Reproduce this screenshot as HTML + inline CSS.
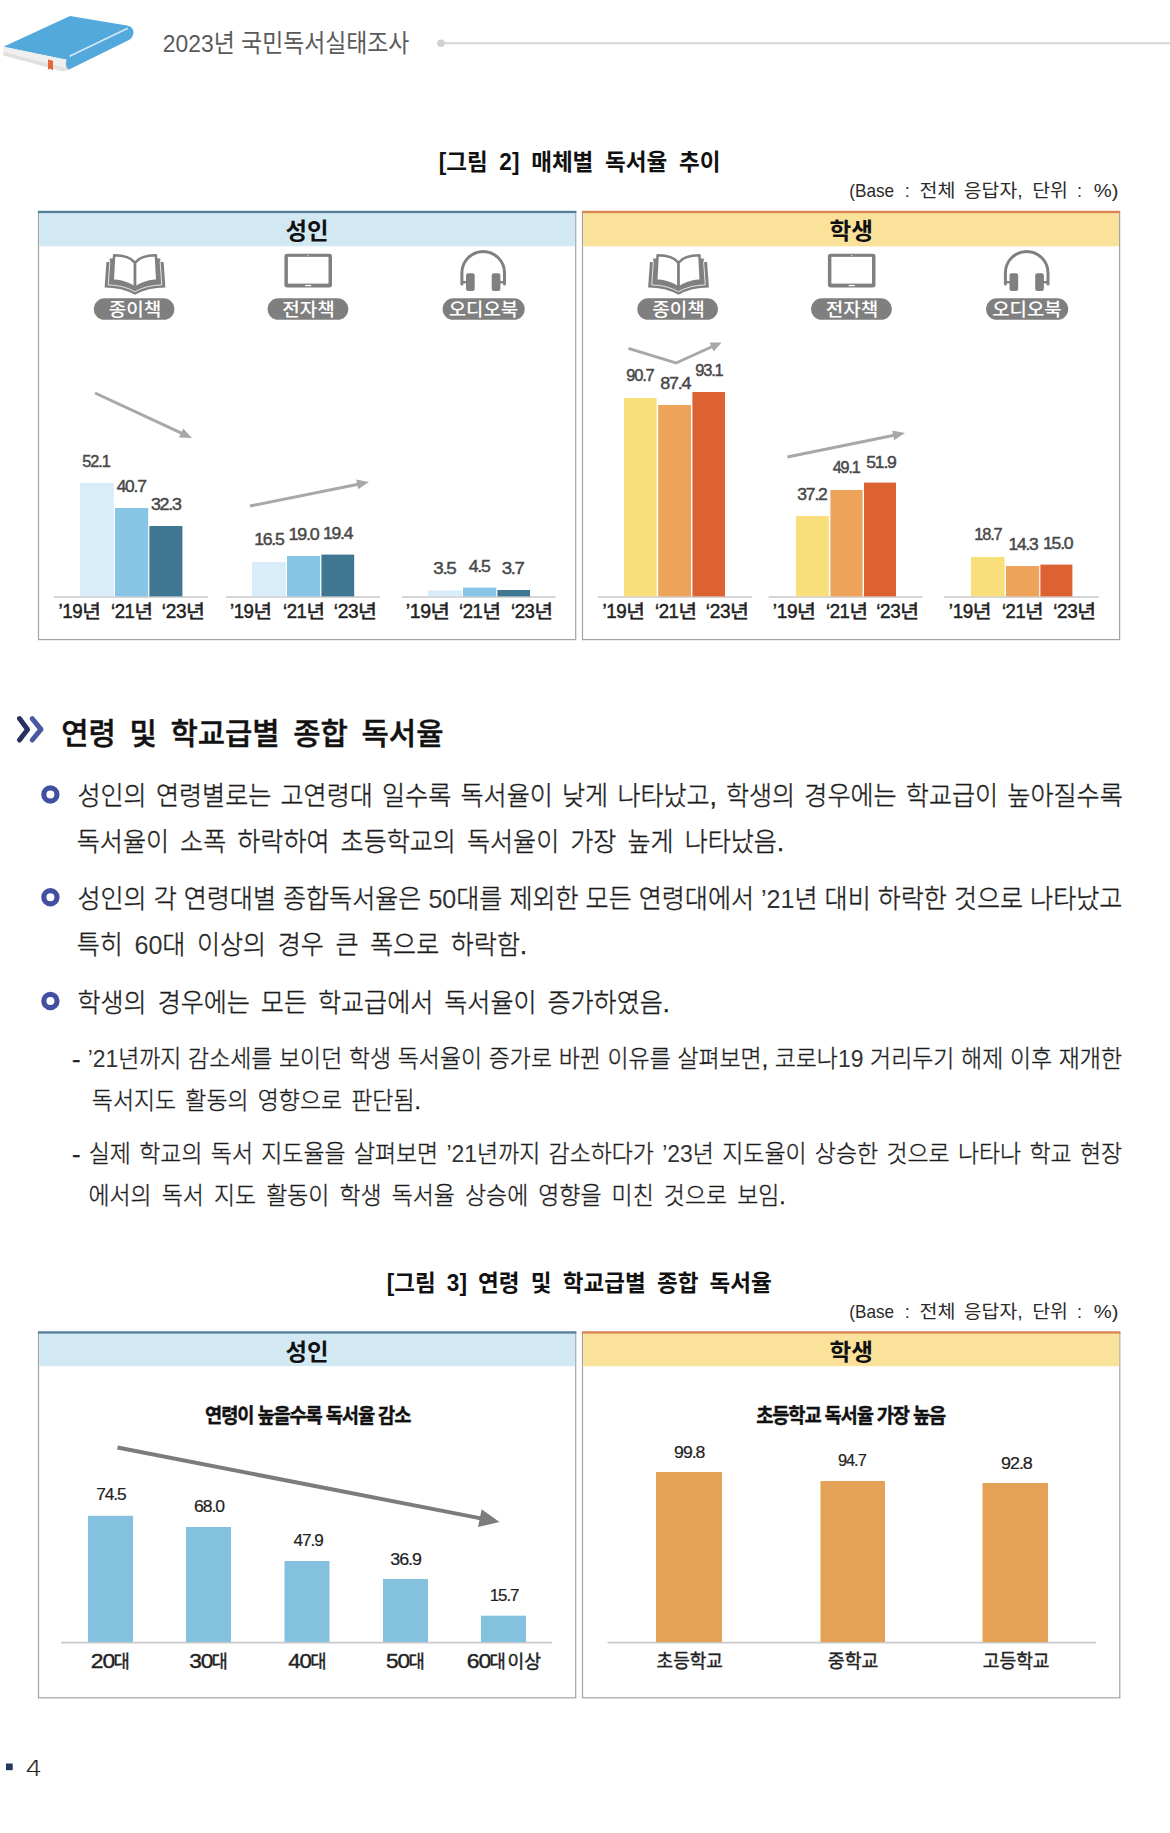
<!DOCTYPE html>
<html lang="ko"><head><meta charset="utf-8"><title>2023년 국민독서실태조사</title>
<style>html,body{margin:0;padding:0;background:#fff}body{width:1170px;height:1833px;overflow:hidden}svg{display:block}text{font-kerning:normal}</style>
</head><body>
<svg width="1170" height="1833" viewBox="0 0 1170 1833">
<g id="bookicon">
<path d="M3.5 46.5 L3.5 55 L61 70.5 Q66 71.5 68.5 69 L68.5 59 Z" fill="#efefef"/>
<path d="M3.5 52 L3.5 55.5 L61 71 Q66 72 68.5 69.5 L68.5 66 Q66 68 61 67 Z" fill="#e2e0de"/>
<path d="M4 46.5 L70 16 L127 25.5 Q134 27 133.5 33 Q133 37.5 129 40 L69 69.5 Q64 66 67 59.5 Z" fill="#54a9dc"/>
<path d="M4 46.500 L67 59.5 Q64.5 65 68.5 69.5 L70.5 68.5 Q67.500 64.500 70 59 L129 29.5 L128 27.8 L68.3 57.2 L9 45 Z" fill="#54a9dc"/>
<path d="M69.5 56.3 L127.8 28.2" stroke="#d6eaf7" stroke-width="1.5" fill="none"/>
<path d="M48 59.5 L53 60.8 L53 70.5 L50.5 68.8 L48 69.5 Z" fill="#e2683a"/>
</g>
<line x1="441" y1="43.3" x2="1170" y2="43.3" stroke="#d4d4d4" stroke-width="2"/>
<circle cx="441" cy="43.3" r="3.8" fill="#d0d0d0"/>
<rect x="38.5" y="212" width="537.2" height="427.6" fill="#fff" stroke="#a3a3a3" stroke-width="1.2"/>
<rect x="39.1" y="212" width="536.0" height="34.30000000000001" fill="#d2e8f3"/>
<rect x="37.9" y="210.8" width="538.4000000000001" height="2.3" fill="#557f9b"/>
<rect x="582.5" y="212" width="537.0999999999999" height="427.6" fill="#fff" stroke="#a3a3a3" stroke-width="1.2"/>
<rect x="583.1" y="212" width="535.8999999999999" height="34.30000000000001" fill="#fae29b"/>
<rect x="581.9" y="210.8" width="538.3" height="2.3" fill="#d98452"/>
<g transform="translate(135,0)">
<path d="M-28.6 262 L-30.4 287.4 Q-13 287.4 0 294.7 Q13 287.4 30.4 287.4 L28.6 262 L25.3 262 L25.3 258.4 L20 258.4 Q6 257 0 264 Q-6 257 -20 258.4 L-25.300 258.4 L-25.300 262 Z" fill="#808080"/>
<path d="M-25.1 261.6 L-26.8 284.900 Q-11 285.3 0 291.7 Q11 285.3 26.8 284.900 L25.1 261.6" fill="none" stroke="#fff" stroke-width="0.8"/>
<path d="M-0.1 262.6 Q-6 255.2 -20.900 255.3 L-22.3 280.6 Q-8 281.6 -0.1 288 Z" fill="#fff" stroke="#808080" stroke-width="2.5" stroke-linejoin="round"/>
<path d="M0.1 262.6 Q6 255.2 20.900 255.3 L22.3 280.6 Q8 281.6 0.1 288 Z" fill="#fff" stroke="#808080" stroke-width="2.5" stroke-linejoin="round"/>
</g>
<g transform="translate(308.2,0)">
<rect x="-23.8" y="253.8" width="47.6" height="33.6" rx="2.6" fill="#808080"/>
<rect x="-20.3" y="256.9" width="40.6" height="26.7" fill="#fff"/>
<rect x="-3" y="284.9" width="6" height="1.3" fill="#fff"/>
<circle cx="0" cy="255.3" r="0.6" fill="#fff"/>
</g>
<g transform="translate(483.2,0)">
<path d="M-21.3 284 L-21.3 272.8 A21.3 21.3 0 0 1 21.3 272.8 L21.3 284" fill="none" stroke="#808080" stroke-width="3" stroke-linecap="round"/>
<rect x="-17.2" y="273.3" width="8.7" height="17.6" rx="2.2" fill="#808080"/>
<rect x="8.5" y="273.3" width="8.7" height="17.6" rx="2.2" fill="#808080"/>
<rect x="-21.3" y="281" width="5" height="2.4" fill="#808080"/>
<rect x="16.3" y="281" width="5" height="2.4" fill="#808080"/>
</g>
<rect x="93.8" y="298.3" width="80.60000000000001" height="21.5" rx="10.75" fill="#7f7f7f"/>
<rect x="267.6" y="298.3" width="80.69999999999999" height="21.5" rx="10.75" fill="#7f7f7f"/>
<rect x="442.6" y="298.3" width="82.10000000000002" height="21.5" rx="10.75" fill="#7f7f7f"/>
<g transform="translate(678.5,0)">
<path d="M-28.6 262 L-30.4 287.4 Q-13 287.4 0 294.7 Q13 287.4 30.4 287.4 L28.6 262 L25.3 262 L25.3 258.4 L20 258.4 Q6 257 0 264 Q-6 257 -20 258.4 L-25.300 258.4 L-25.300 262 Z" fill="#808080"/>
<path d="M-25.1 261.6 L-26.8 284.900 Q-11 285.3 0 291.7 Q11 285.3 26.8 284.900 L25.1 261.6" fill="none" stroke="#fff" stroke-width="0.8"/>
<path d="M-0.1 262.6 Q-6 255.2 -20.900 255.3 L-22.3 280.6 Q-8 281.6 -0.1 288 Z" fill="#fff" stroke="#808080" stroke-width="2.5" stroke-linejoin="round"/>
<path d="M0.1 262.6 Q6 255.2 20.900 255.3 L22.3 280.6 Q8 281.6 0.1 288 Z" fill="#fff" stroke="#808080" stroke-width="2.5" stroke-linejoin="round"/>
</g>
<g transform="translate(851.7,0)">
<rect x="-23.8" y="253.8" width="47.6" height="33.6" rx="2.6" fill="#808080"/>
<rect x="-20.3" y="256.9" width="40.6" height="26.7" fill="#fff"/>
<rect x="-3" y="284.9" width="6" height="1.3" fill="#fff"/>
<circle cx="0" cy="255.3" r="0.6" fill="#fff"/>
</g>
<g transform="translate(1026.7,0)">
<path d="M-21.3 284 L-21.3 272.8 A21.3 21.3 0 0 1 21.3 272.8 L21.3 284" fill="none" stroke="#808080" stroke-width="3" stroke-linecap="round"/>
<rect x="-17.2" y="273.3" width="8.7" height="17.6" rx="2.2" fill="#808080"/>
<rect x="8.5" y="273.3" width="8.7" height="17.6" rx="2.2" fill="#808080"/>
<rect x="-21.3" y="281" width="5" height="2.4" fill="#808080"/>
<rect x="16.3" y="281" width="5" height="2.4" fill="#808080"/>
</g>
<rect x="637.3" y="298.3" width="80.60000000000002" height="21.5" rx="10.75" fill="#7f7f7f"/>
<rect x="811.1" y="298.3" width="80.69999999999993" height="21.5" rx="10.75" fill="#7f7f7f"/>
<rect x="986.1" y="298.3" width="82.10000000000002" height="21.5" rx="10.75" fill="#7f7f7f"/>
<line x1="54" y1="597" x2="208" y2="597" stroke="#c9c9c9" stroke-width="1.6"/>
<rect x="80" y="483" width="33.80" height="113.40" fill="#d9ecf9"/>
<rect x="115" y="508" width="33.20" height="88.40" fill="#86c5e3"/>
<rect x="149.4" y="526" width="33.00" height="70.40" fill="#3f7692"/>
<path d="M95.0 393.0 L182.0 433.4" fill="none" stroke="#a8a8a8" stroke-width="3" stroke-linejoin="miter" stroke-linecap="butt"/>
<path d="M192.0 438.0 L179.0 437.5 L183.2 428.4 Z" fill="#a8a8a8"/>
<line x1="226" y1="597" x2="380" y2="597" stroke="#c9c9c9" stroke-width="1.6"/>
<rect x="252" y="562" width="33.80" height="34.40" fill="#d9ecf9"/>
<rect x="287" y="556" width="33.20" height="40.40" fill="#86c5e3"/>
<rect x="321.4" y="554.6" width="32.80" height="41.80" fill="#3f7692"/>
<path d="M250.0 506.0 L358.2 484.2" fill="none" stroke="#a8a8a8" stroke-width="3" stroke-linejoin="miter" stroke-linecap="butt"/>
<path d="M369.0 482.0 L358.2 489.3 L356.2 479.5 Z" fill="#a8a8a8"/>
<line x1="402" y1="597" x2="555.6" y2="597" stroke="#c9c9c9" stroke-width="1.6"/>
<rect x="428" y="590.4" width="34.00" height="6.00" fill="#d9ecf9"/>
<rect x="463" y="587.6" width="33.20" height="8.80" fill="#86c5e3"/>
<rect x="497.4" y="590" width="32.60" height="6.40" fill="#3f7692"/>
<line x1="598" y1="597" x2="752" y2="597" stroke="#c9c9c9" stroke-width="1.6"/>
<rect x="624" y="398" width="32.60" height="198.40" fill="#f8df7b"/>
<rect x="658.2" y="405" width="32.80" height="191.40" fill="#eea35a"/>
<rect x="692.4" y="392" width="32.60" height="204.40" fill="#dc6331"/>
<path d="M628.4 348.4 L676.0 363.0 L712.5 346.5" fill="none" stroke="#a8a8a8" stroke-width="3" stroke-linejoin="miter" stroke-linecap="butt"/>
<path d="M721.6 342.4 L713.6 351.5 L709.5 342.4 Z" fill="#a8a8a8"/>
<line x1="768.6" y1="597" x2="922.6" y2="597" stroke="#c9c9c9" stroke-width="1.6"/>
<rect x="796" y="516" width="32.80" height="80.40" fill="#f8df7b"/>
<rect x="830.4" y="490" width="32.20" height="106.40" fill="#eea35a"/>
<rect x="864" y="482.6" width="32.00" height="113.80" fill="#dc6331"/>
<path d="M787.4 457.0 L894.2 435.2" fill="none" stroke="#a8a8a8" stroke-width="3" stroke-linejoin="miter" stroke-linecap="butt"/>
<path d="M905.0 433.0 L894.2 440.3 L892.2 430.5 Z" fill="#a8a8a8"/>
<line x1="944" y1="597" x2="1099" y2="597" stroke="#c9c9c9" stroke-width="1.6"/>
<rect x="971" y="557" width="33.60" height="39.40" fill="#f8df7b"/>
<rect x="1006" y="566" width="33.20" height="30.40" fill="#eea35a"/>
<rect x="1040.4" y="564.6" width="32.00" height="31.80" fill="#dc6331"/>
<path d="M19.5 718.6 L27.6 729.4 L19.5 740" fill="none" stroke="#27315f" stroke-width="5" stroke-linecap="round" stroke-linejoin="round"/>
<path d="M32.2 718.6 L41 729.4 L32.2 740" fill="none" stroke="#4a58a4" stroke-width="5" stroke-linecap="round" stroke-linejoin="round"/>
<circle cx="50.4" cy="794.5" r="6.6" fill="none" stroke="#4250a2" stroke-width="5.2"/>
<circle cx="50.4" cy="897.3" r="6.6" fill="none" stroke="#4250a2" stroke-width="5.2"/>
<circle cx="50.4" cy="1001" r="6.6" fill="none" stroke="#4250a2" stroke-width="5.2"/>
<rect x="38.5" y="1332.5" width="537.2" height="365.29999999999995" fill="#fff" stroke="#a3a3a3" stroke-width="1.2"/>
<rect x="39.1" y="1332.5" width="536.0" height="33.700000000000045" fill="#d2e8f3"/>
<rect x="37.9" y="1331.3" width="538.4000000000001" height="2.3" fill="#557f9b"/>
<rect x="582.5" y="1332.5" width="537.3" height="365.29999999999995" fill="#fff" stroke="#a3a3a3" stroke-width="1.2"/>
<rect x="583.1" y="1332.5" width="536.0999999999999" height="33.700000000000045" fill="#fae29b"/>
<rect x="581.9" y="1331.3" width="538.5" height="2.3" fill="#d98452"/>
<line x1="61" y1="1642.6" x2="552" y2="1642.6" stroke="#c9c9c9" stroke-width="1.6"/>
<line x1="607.5" y1="1642.6" x2="1096" y2="1642.6" stroke="#c9c9c9" stroke-width="1.6"/>
<rect x="88" y="1515.8" width="45.00" height="126.20" fill="#83c1df"/>
<rect x="186" y="1527" width="45.00" height="115.00" fill="#83c1df"/>
<rect x="284.5" y="1561" width="45.00" height="81.00" fill="#83c1df"/>
<rect x="383" y="1579" width="45.00" height="63.00" fill="#83c1df"/>
<rect x="481" y="1615.7" width="45.00" height="26.30" fill="#83c1df"/>
<path d="M117.5 1447.5 L480.9 1518.4" fill="none" stroke="#7c7c7c" stroke-width="4" stroke-linejoin="miter" stroke-linecap="butt"/>
<path d="M499.5 1522.0 L478.1 1527.0 L481.6 1509.3 Z" fill="#7c7c7c"/>
<rect x="656" y="1472" width="66.00" height="170.00" fill="#e5a155"/>
<rect x="820.5" y="1481" width="64.50" height="161.00" fill="#e5a155"/>
<rect x="982.5" y="1483" width="65.50" height="159.00" fill="#e5a155"/>
<rect x="6" y="1763.5" width="6.7" height="6.7" fill="#24375f"/>
<text transform="translate(162.86,52.30) scale(0.9337,1)" style="font:400 24.5px 'Liberation Sans','Noto Sans CJK KR',sans-serif;white-space:pre;" fill="#5a5a5a">2023년 국민독서실태조사</text>
<text transform="translate(438.65,169.50) scale(0.9800,1)" style="font:700 23px 'Liberation Sans','Noto Sans CJK KR',sans-serif;white-space:pre;word-spacing:5.598px;" fill="#111">[그림 2] 매체별 독서율 추이</text>
<text transform="translate(285.46,239.43) scale(1.0170,1)" style="font:700 23px 'Liberation Sans','Noto Sans CJK KR',sans-serif;white-space:pre;" fill="#111">성인</text>
<text transform="translate(829.55,239.20) scale(1.0297,1)" style="font:700 23px 'Liberation Sans','Noto Sans CJK KR',sans-serif;white-space:pre;" fill="#111">학생</text>
<text transform="translate(108.75,315.83) scale(1.0314,1)" style="font:500 18.5px 'Liberation Sans','Noto Sans CJK KR',sans-serif;white-space:pre;" fill="#fff">종이책</text>
<text transform="translate(282.35,315.83) scale(1.0293,1)" style="font:500 18.5px 'Liberation Sans','Noto Sans CJK KR',sans-serif;white-space:pre;" fill="#fff">전자책</text>
<text transform="translate(448.65,315.83) scale(1.0222,1)" style="font:500 18.5px 'Liberation Sans','Noto Sans CJK KR',sans-serif;white-space:pre;" fill="#fff">오디오북</text>
<text transform="translate(652.25,315.83) scale(1.0314,1)" style="font:500 18.5px 'Liberation Sans','Noto Sans CJK KR',sans-serif;white-space:pre;" fill="#fff">종이책</text>
<text transform="translate(825.85,315.83) scale(1.0293,1)" style="font:500 18.5px 'Liberation Sans','Noto Sans CJK KR',sans-serif;white-space:pre;" fill="#fff">전자책</text>
<text transform="translate(992.15,315.83) scale(1.0222,1)" style="font:500 18.5px 'Liberation Sans','Noto Sans CJK KR',sans-serif;white-space:pre;" fill="#fff">오디오북</text>
<text transform="translate(82.35,467.43) scale(0.9740,1)" style="font:400 16.8px 'Liberation Sans','Noto Sans CJK KR',sans-serif;white-space:pre;letter-spacing:-0.07em;" fill="#484848" stroke="#484848" stroke-width="0.45">52.1</text>
<text transform="translate(116.65,491.83) scale(1.0336,1)" style="font:400 16.8px 'Liberation Sans','Noto Sans CJK KR',sans-serif;white-space:pre;letter-spacing:-0.07em;" fill="#484848" stroke="#484848" stroke-width="0.45">40.7</text>
<text transform="translate(150.89,509.83) scale(1.0606,1)" style="font:400 16.8px 'Liberation Sans','Noto Sans CJK KR',sans-serif;white-space:pre;letter-spacing:-0.07em;" fill="#484848" stroke="#484848" stroke-width="0.45">32.3</text>
<text transform="translate(254.19,544.83) scale(1.0500,1)" style="font:400 16.8px 'Liberation Sans','Noto Sans CJK KR',sans-serif;white-space:pre;letter-spacing:-0.07em;" fill="#484848" stroke="#484848" stroke-width="0.45">16.5</text>
<text transform="translate(288.57,539.83) scale(1.0655,1)" style="font:400 16.8px 'Liberation Sans','Noto Sans CJK KR',sans-serif;white-space:pre;letter-spacing:-0.07em;" fill="#484848" stroke="#484848" stroke-width="0.45">19.0</text>
<text transform="translate(323.00,539.33) scale(1.0444,1)" style="font:400 16.8px 'Liberation Sans','Noto Sans CJK KR',sans-serif;white-space:pre;letter-spacing:-0.07em;" fill="#484848" stroke="#484848" stroke-width="0.45">19.4</text>
<text transform="translate(433.25,573.83) scale(1.1193,1)" style="font:400 16.8px 'Liberation Sans','Noto Sans CJK KR',sans-serif;white-space:pre;letter-spacing:-0.07em;" fill="#484848" stroke="#484848" stroke-width="0.45">3.5</text>
<text transform="translate(468.65,571.83) scale(1.0504,1)" style="font:400 16.8px 'Liberation Sans','Noto Sans CJK KR',sans-serif;white-space:pre;letter-spacing:-0.07em;" fill="#484848" stroke="#484848" stroke-width="0.45">4.5</text>
<text transform="translate(501.66,573.83) scale(1.1084,1)" style="font:400 16.8px 'Liberation Sans','Noto Sans CJK KR',sans-serif;white-space:pre;letter-spacing:-0.07em;" fill="#484848" stroke="#484848" stroke-width="0.45">3.7</text>
<text transform="translate(626.18,381.43) scale(0.9800,1)" style="font:400 16.8px 'Liberation Sans','Noto Sans CJK KR',sans-serif;white-space:pre;letter-spacing:-0.07em;" fill="#484848" stroke="#484848" stroke-width="0.45">90.7</text>
<text transform="translate(660.28,389.23) scale(1.0693,1)" style="font:400 16.8px 'Liberation Sans','Noto Sans CJK KR',sans-serif;white-space:pre;letter-spacing:-0.07em;" fill="#484848" stroke="#484848" stroke-width="0.45">87.4</text>
<text transform="translate(695.18,376.23) scale(0.9800,1)" style="font:400 16.8px 'Liberation Sans','Noto Sans CJK KR',sans-serif;white-space:pre;letter-spacing:-0.07em;" fill="#484848" stroke="#484848" stroke-width="0.45">93.1</text>
<text transform="translate(797.30,499.83) scale(1.0462,1)" style="font:400 16.8px 'Liberation Sans','Noto Sans CJK KR',sans-serif;white-space:pre;letter-spacing:-0.07em;" fill="#484848" stroke="#484848" stroke-width="0.45">37.2</text>
<text transform="translate(832.68,473.43) scale(0.9624,1)" style="font:400 16.8px 'Liberation Sans','Noto Sans CJK KR',sans-serif;white-space:pre;letter-spacing:-0.07em;" fill="#484848" stroke="#484848" stroke-width="0.45">49.1</text>
<text transform="translate(866.30,467.83) scale(1.0462,1)" style="font:400 16.8px 'Liberation Sans','Noto Sans CJK KR',sans-serif;white-space:pre;letter-spacing:-0.07em;" fill="#484848" stroke="#484848" stroke-width="0.45">51.9</text>
<text transform="translate(974.29,539.83) scale(0.9760,1)" style="font:400 16.8px 'Liberation Sans','Noto Sans CJK KR',sans-serif;white-space:pre;letter-spacing:-0.07em;" fill="#484848" stroke="#484848" stroke-width="0.45">18.7</text>
<text transform="translate(1008.61,550.23) scale(1.0352,1)" style="font:400 16.8px 'Liberation Sans','Noto Sans CJK KR',sans-serif;white-space:pre;letter-spacing:-0.07em;" fill="#484848" stroke="#484848" stroke-width="0.45">14.3</text>
<text transform="translate(1042.99,548.83) scale(1.0509,1)" style="font:400 16.8px 'Liberation Sans','Noto Sans CJK KR',sans-serif;white-space:pre;letter-spacing:-0.07em;" fill="#484848" stroke="#484848" stroke-width="0.45">15.0</text>
<text transform="translate(61.22,743.50) scale(0.9900,1)" style="font:500 30px 'Liberation Sans','Noto Sans CJK KR',sans-serif;white-space:pre;word-spacing:5.407px;" fill="#111" stroke="#111" stroke-width="0.45">연령 및 학교급별 종합 독서율</text>
<text transform="translate(77.49,805.00) scale(0.9650,1)" style="font:300 26px 'Liberation Sans','Noto Sans CJK KR',sans-serif;white-space:pre;word-spacing:2.367px;" fill="#1c1c1c" stroke="#1c1c1c" stroke-width="0.4">성인의 연령별로는 고연령대 일수록 독서율이 낮게 나타났고, 학생의 경우에는 학교급이 높아질수록</text>
<text transform="translate(76.75,851.00) scale(0.9650,1)" style="font:300 26px 'Liberation Sans','Noto Sans CJK KR',sans-serif;white-space:pre;word-spacing:4.231px;" fill="#1c1c1c" stroke="#1c1c1c" stroke-width="0.4">독서율이 소폭 하락하여 초등학교의 독서율이 가장 높게 나타났음.</text>
<text transform="translate(77.49,908.40) scale(0.9650,1)" style="font:300 26px 'Liberation Sans','Noto Sans CJK KR',sans-serif;white-space:pre;word-spacing:0.023px;" fill="#1c1c1c" stroke="#1c1c1c" stroke-width="0.4">성인의 각 연령대별 종합독서율은 <tspan stroke="none" fill="#333">50</tspan>대를 제외한 모든 연령대에서 <tspan stroke="none" fill="#333">’21</tspan>년 대비 하락한 것으로 나타났고</text>
<text transform="translate(76.75,954.00) scale(0.9650,1)" style="font:300 26px 'Liberation Sans','Noto Sans CJK KR',sans-serif;white-space:pre;word-spacing:4.749px;" fill="#1c1c1c" stroke="#1c1c1c" stroke-width="0.4">특히 <tspan stroke="none" fill="#333">60</tspan>대 이상의 경우 큰 폭으로 하락함.</text>
<text transform="translate(77.49,1012.00) scale(0.9650,1)" style="font:300 26px 'Liberation Sans','Noto Sans CJK KR',sans-serif;white-space:pre;word-spacing:4.137px;" fill="#1c1c1c" stroke="#1c1c1c" stroke-width="0.4">학생의 경우에는 모든 학교급에서 독서율이 증가하였음.</text>
<text transform="translate(71.98,1067.00) scale(1.0894,1)" style="font:300 23.5px 'Liberation Sans','Noto Sans CJK KR',sans-serif;white-space:pre;" fill="#1c1c1c" stroke="#1c1c1c" stroke-width="0.35">-</text>
<text transform="translate(87.63,1067.00) scale(0.9750,1)" style="font:300 23.5px 'Liberation Sans','Noto Sans CJK KR',sans-serif;white-space:pre;word-spacing:0.370px;" fill="#1c1c1c" stroke="#1c1c1c" stroke-width="0.35"><tspan stroke="none" fill="#333">’21</tspan>년까지 감소세를 보이던 학생 독서율이 증가로 바뀐 이유를 살펴보면, 코로나<tspan stroke="none" fill="#333">19</tspan> 거리두기 해제 이후 재개한</text>
<text transform="translate(91.85,1109.00) scale(0.9750,1)" style="font:300 23.5px 'Liberation Sans','Noto Sans CJK KR',sans-serif;white-space:pre;word-spacing:2.961px;" fill="#1c1c1c" stroke="#1c1c1c" stroke-width="0.35">독서지도 활동의 영향으로 판단됨.</text>
<text transform="translate(71.98,1162.00) scale(1.0894,1)" style="font:300 23.5px 'Liberation Sans','Noto Sans CJK KR',sans-serif;white-space:pre;" fill="#1c1c1c" stroke="#1c1c1c" stroke-width="0.35">-</text>
<text transform="translate(88.80,1162.00) scale(0.9750,1)" style="font:300 23.5px 'Liberation Sans','Noto Sans CJK KR',sans-serif;white-space:pre;word-spacing:2.049px;" fill="#1c1c1c" stroke="#1c1c1c" stroke-width="0.35">실제 학교의 독서 지도율을 살펴보면 <tspan stroke="none" fill="#333">’21</tspan>년까지 감소하다가 <tspan stroke="none" fill="#333">’23</tspan>년 지도율이 상승한 것으로 나타나 학교 현장</text>
<text transform="translate(88.40,1204.00) scale(0.9750,1)" style="font:300 23.5px 'Liberation Sans','Noto Sans CJK KR',sans-serif;white-space:pre;word-spacing:3.852px;" fill="#1c1c1c" stroke="#1c1c1c" stroke-width="0.35">에서의 독서 지도 활동이 학생 독서율 상승에 영향을 미친 것으로 보임.</text>
<text transform="translate(386.65,1290.50) scale(0.9800,1)" style="font:700 23px 'Liberation Sans','Noto Sans CJK KR',sans-serif;white-space:pre;word-spacing:5.068px;" fill="#111">[그림 3] 연령 및 학교급별 종합 독서율</text>
<text transform="translate(285.46,1360.43) scale(1.0170,1)" style="font:700 23px 'Liberation Sans','Noto Sans CJK KR',sans-serif;white-space:pre;" fill="#111">성인</text>
<text transform="translate(829.55,1360.20) scale(1.0297,1)" style="font:700 23px 'Liberation Sans','Noto Sans CJK KR',sans-serif;white-space:pre;" fill="#111">학생</text>
<text transform="translate(205.06,1423.00) scale(0.9351,1)" style="font:700 20px 'Liberation Sans','Noto Sans CJK KR',sans-serif;white-space:pre;letter-spacing:-0.06em;" fill="#111" stroke="#111" stroke-width="0.4">연령이 높을수록 독서율 감소</text>
<text transform="translate(756.25,1422.50) scale(0.9341,1)" style="font:700 20px 'Liberation Sans','Noto Sans CJK KR',sans-serif;white-space:pre;letter-spacing:-0.06em;" fill="#111" stroke="#111" stroke-width="0.4">초등학교 독서율 가장 높음</text>
<text transform="translate(96.13,1500.34) scale(1.0524,1)" style="font:400 16.5px 'Liberation Sans','Noto Sans CJK KR',sans-serif;white-space:pre;letter-spacing:-0.06em;" fill="#222" stroke="#222" stroke-width="0.2">74.5</text>
<text transform="translate(194.12,1511.84) scale(1.0642,1)" style="font:400 16.5px 'Liberation Sans','Noto Sans CJK KR',sans-serif;white-space:pre;letter-spacing:-0.06em;" fill="#222" stroke="#222" stroke-width="0.2">68.0</text>
<text transform="translate(293.46,1545.84) scale(1.0410,1)" style="font:400 16.5px 'Liberation Sans','Noto Sans CJK KR',sans-serif;white-space:pre;letter-spacing:-0.06em;" fill="#222" stroke="#222" stroke-width="0.2">47.9</text>
<text transform="translate(390.29,1564.84) scale(1.0823,1)" style="font:400 16.5px 'Liberation Sans','Noto Sans CJK KR',sans-serif;white-space:pre;letter-spacing:-0.06em;" fill="#222" stroke="#222" stroke-width="0.2">36.9</text>
<text transform="translate(489.65,1600.84) scale(1.0237,1)" style="font:400 16.5px 'Liberation Sans','Noto Sans CJK KR',sans-serif;white-space:pre;letter-spacing:-0.06em;" fill="#222" stroke="#222" stroke-width="0.2">15.7</text>
<text transform="translate(674.12,1457.84) scale(1.0706,1)" style="font:400 16.5px 'Liberation Sans','Noto Sans CJK KR',sans-serif;white-space:pre;letter-spacing:-0.06em;" fill="#222" stroke="#222" stroke-width="0.2">99.8</text>
<text transform="translate(837.88,1465.84) scale(0.9907,1)" style="font:400 16.5px 'Liberation Sans','Noto Sans CJK KR',sans-serif;white-space:pre;letter-spacing:-0.06em;" fill="#222" stroke="#222" stroke-width="0.2">94.7</text>
<text transform="translate(1001.10,1469.34) scale(1.0887,1)" style="font:400 16.5px 'Liberation Sans','Noto Sans CJK KR',sans-serif;white-space:pre;letter-spacing:-0.06em;" fill="#222" stroke="#222" stroke-width="0.2">92.8</text>
<text transform="translate(656.60,1668.44) scale(0.9239,1)" style="font:400 19.5px 'Liberation Sans','Noto Sans CJK KR',sans-serif;white-space:pre;" fill="#222" stroke="#222" stroke-width="0.4">초등학교</text>
<text transform="translate(827.78,1668.44) scale(0.9408,1)" style="font:400 19.5px 'Liberation Sans','Noto Sans CJK KR',sans-serif;white-space:pre;" fill="#222" stroke="#222" stroke-width="0.4">중학교</text>
<text transform="translate(982.79,1668.44) scale(0.9311,1)" style="font:400 19.5px 'Liberation Sans','Noto Sans CJK KR',sans-serif;white-space:pre;" fill="#222" stroke="#222" stroke-width="0.4">고등학교</text>
<text transform="translate(25.73,1775.78) scale(1.1586,1)" style="font:200 22px 'DejaVu Sans',sans-serif;white-space:pre;" fill="#222" stroke="#222" stroke-width="0.25">4</text>
<text style="white-space:pre"><tspan x="849.27" y="197.40" textLength="49.63" lengthAdjust="spacingAndGlyphs" style="font:400 19px 'Liberation Sans','Noto Sans CJK KR',sans-serif;" fill="#2b2b2b">(Base </tspan><tspan x="904.78" y="197.40" textLength="10.00" lengthAdjust="spacingAndGlyphs" style="font:400 18px 'Liberation Sans','Noto Sans CJK KR',sans-serif;" fill="#2b2b2b">: </tspan><tspan x="919.53" y="197.40" textLength="41.35" lengthAdjust="spacingAndGlyphs" style="font:400 18px 'Liberation Sans','Noto Sans CJK KR',sans-serif;" fill="#2b2b2b">전체 </tspan><tspan x="963.83" y="197.40" textLength="64.14" lengthAdjust="spacingAndGlyphs" style="font:400 18px 'Liberation Sans','Noto Sans CJK KR',sans-serif;" fill="#2b2b2b">응답자, </tspan><tspan x="1032.16" y="197.40" textLength="41.05" lengthAdjust="spacingAndGlyphs" style="font:400 18px 'Liberation Sans','Noto Sans CJK KR',sans-serif;" fill="#2b2b2b">단위 </tspan><tspan x="1076.88" y="197.40" textLength="10.00" lengthAdjust="spacingAndGlyphs" style="font:400 18px 'Liberation Sans','Noto Sans CJK KR',sans-serif;" fill="#2b2b2b">: </tspan><tspan x="1093.89" y="197.40" textLength="24.66" lengthAdjust="spacingAndGlyphs" style="font:400 19px 'Liberation Sans','Noto Sans CJK KR',sans-serif;" fill="#2b2b2b">%)</tspan></text>
<text style="white-space:pre"><tspan x="58.47" y="618.10" textLength="23.93" lengthAdjust="spacingAndGlyphs" style="font:400 20px 'Liberation Sans','Noto Sans CJK KR',sans-serif;letter-spacing:-0.02em;" fill="#222" stroke="#222" stroke-width="0.45">’19</tspan><tspan x="82.31" y="618.42" textLength="18.73" lengthAdjust="spacingAndGlyphs" style="font:400 18px 'Liberation Sans','Noto Sans CJK KR',sans-serif;" fill="#222" stroke="#222" stroke-width="0.45">년</tspan></text>
<text style="white-space:pre"><tspan x="110.89" y="618.30" textLength="23.68" lengthAdjust="spacingAndGlyphs" style="font:400 20px 'Liberation Sans','Noto Sans CJK KR',sans-serif;letter-spacing:-0.02em;" fill="#222" stroke="#222" stroke-width="0.45">‘21</tspan><tspan x="134.48" y="618.42" textLength="18.54" lengthAdjust="spacingAndGlyphs" style="font:400 18px 'Liberation Sans','Noto Sans CJK KR',sans-serif;" fill="#222" stroke="#222" stroke-width="0.45">년</tspan></text>
<text style="white-space:pre"><tspan x="161.86" y="618.10" textLength="24.29" lengthAdjust="spacingAndGlyphs" style="font:400 20px 'Liberation Sans','Noto Sans CJK KR',sans-serif;letter-spacing:-0.02em;" fill="#222" stroke="#222" stroke-width="0.45">‘23</tspan><tspan x="186.05" y="618.42" textLength="19.01" lengthAdjust="spacingAndGlyphs" style="font:400 18px 'Liberation Sans','Noto Sans CJK KR',sans-serif;" fill="#222" stroke="#222" stroke-width="0.45">년</tspan></text>
<text style="white-space:pre"><tspan x="229.89" y="618.10" textLength="23.68" lengthAdjust="spacingAndGlyphs" style="font:400 20px 'Liberation Sans','Noto Sans CJK KR',sans-serif;letter-spacing:-0.02em;" fill="#222" stroke="#222" stroke-width="0.45">’19</tspan><tspan x="253.48" y="618.42" textLength="18.54" lengthAdjust="spacingAndGlyphs" style="font:400 18px 'Liberation Sans','Noto Sans CJK KR',sans-serif;" fill="#222" stroke="#222" stroke-width="0.45">년</tspan></text>
<text style="white-space:pre"><tspan x="282.89" y="618.30" textLength="23.68" lengthAdjust="spacingAndGlyphs" style="font:400 20px 'Liberation Sans','Noto Sans CJK KR',sans-serif;letter-spacing:-0.02em;" fill="#222" stroke="#222" stroke-width="0.45">‘21</tspan><tspan x="306.48" y="618.42" textLength="18.54" lengthAdjust="spacingAndGlyphs" style="font:400 18px 'Liberation Sans','Noto Sans CJK KR',sans-serif;" fill="#222" stroke="#222" stroke-width="0.45">년</tspan></text>
<text style="white-space:pre"><tspan x="333.86" y="618.10" textLength="24.29" lengthAdjust="spacingAndGlyphs" style="font:400 20px 'Liberation Sans','Noto Sans CJK KR',sans-serif;letter-spacing:-0.02em;" fill="#222" stroke="#222" stroke-width="0.45">‘23</tspan><tspan x="358.05" y="618.42" textLength="19.01" lengthAdjust="spacingAndGlyphs" style="font:400 18px 'Liberation Sans','Noto Sans CJK KR',sans-serif;" fill="#222" stroke="#222" stroke-width="0.45">년</tspan></text>
<text style="white-space:pre"><tspan x="405.83" y="618.10" textLength="24.90" lengthAdjust="spacingAndGlyphs" style="font:400 20px 'Liberation Sans','Noto Sans CJK KR',sans-serif;letter-spacing:-0.02em;" fill="#222" stroke="#222" stroke-width="0.45">’19</tspan><tspan x="430.63" y="618.42" textLength="19.49" lengthAdjust="spacingAndGlyphs" style="font:400 18px 'Liberation Sans','Noto Sans CJK KR',sans-serif;" fill="#222" stroke="#222" stroke-width="0.45">년</tspan></text>
<text style="white-space:pre"><tspan x="458.89" y="618.30" textLength="23.68" lengthAdjust="spacingAndGlyphs" style="font:400 20px 'Liberation Sans','Noto Sans CJK KR',sans-serif;letter-spacing:-0.02em;" fill="#222" stroke="#222" stroke-width="0.45">‘21</tspan><tspan x="482.48" y="618.42" textLength="18.54" lengthAdjust="spacingAndGlyphs" style="font:400 18px 'Liberation Sans','Noto Sans CJK KR',sans-serif;" fill="#222" stroke="#222" stroke-width="0.45">년</tspan></text>
<text style="white-space:pre"><tspan x="510.89" y="618.10" textLength="23.68" lengthAdjust="spacingAndGlyphs" style="font:400 20px 'Liberation Sans','Noto Sans CJK KR',sans-serif;letter-spacing:-0.02em;" fill="#222" stroke="#222" stroke-width="0.45">‘23</tspan><tspan x="534.48" y="618.42" textLength="18.54" lengthAdjust="spacingAndGlyphs" style="font:400 18px 'Liberation Sans','Noto Sans CJK KR',sans-serif;" fill="#222" stroke="#222" stroke-width="0.45">년</tspan></text>
<text style="white-space:pre"><tspan x="602.47" y="618.10" textLength="23.93" lengthAdjust="spacingAndGlyphs" style="font:400 20px 'Liberation Sans','Noto Sans CJK KR',sans-serif;letter-spacing:-0.02em;" fill="#222" stroke="#222" stroke-width="0.45">’19</tspan><tspan x="626.31" y="618.42" textLength="18.73" lengthAdjust="spacingAndGlyphs" style="font:400 18px 'Liberation Sans','Noto Sans CJK KR',sans-serif;" fill="#222" stroke="#222" stroke-width="0.45">년</tspan></text>
<text style="white-space:pre"><tspan x="654.89" y="618.30" textLength="23.68" lengthAdjust="spacingAndGlyphs" style="font:400 20px 'Liberation Sans','Noto Sans CJK KR',sans-serif;letter-spacing:-0.02em;" fill="#222" stroke="#222" stroke-width="0.45">‘21</tspan><tspan x="678.48" y="618.42" textLength="18.54" lengthAdjust="spacingAndGlyphs" style="font:400 18px 'Liberation Sans','Noto Sans CJK KR',sans-serif;" fill="#222" stroke="#222" stroke-width="0.45">년</tspan></text>
<text style="white-space:pre"><tspan x="705.86" y="618.10" textLength="24.29" lengthAdjust="spacingAndGlyphs" style="font:400 20px 'Liberation Sans','Noto Sans CJK KR',sans-serif;letter-spacing:-0.02em;" fill="#222" stroke="#222" stroke-width="0.45">‘23</tspan><tspan x="730.05" y="618.42" textLength="19.01" lengthAdjust="spacingAndGlyphs" style="font:400 18px 'Liberation Sans','Noto Sans CJK KR',sans-serif;" fill="#222" stroke="#222" stroke-width="0.45">년</tspan></text>
<text style="white-space:pre"><tspan x="772.86" y="618.10" textLength="24.29" lengthAdjust="spacingAndGlyphs" style="font:400 20px 'Liberation Sans','Noto Sans CJK KR',sans-serif;letter-spacing:-0.02em;" fill="#222" stroke="#222" stroke-width="0.45">’19</tspan><tspan x="797.05" y="618.42" textLength="19.01" lengthAdjust="spacingAndGlyphs" style="font:400 18px 'Liberation Sans','Noto Sans CJK KR',sans-serif;" fill="#222" stroke="#222" stroke-width="0.45">년</tspan></text>
<text style="white-space:pre"><tspan x="825.89" y="618.30" textLength="23.68" lengthAdjust="spacingAndGlyphs" style="font:400 20px 'Liberation Sans','Noto Sans CJK KR',sans-serif;letter-spacing:-0.02em;" fill="#222" stroke="#222" stroke-width="0.45">‘21</tspan><tspan x="849.48" y="618.42" textLength="18.54" lengthAdjust="spacingAndGlyphs" style="font:400 18px 'Liberation Sans','Noto Sans CJK KR',sans-serif;" fill="#222" stroke="#222" stroke-width="0.45">년</tspan></text>
<text style="white-space:pre"><tspan x="876.27" y="618.10" textLength="24.05" lengthAdjust="spacingAndGlyphs" style="font:400 20px 'Liberation Sans','Noto Sans CJK KR',sans-serif;letter-spacing:-0.02em;" fill="#222" stroke="#222" stroke-width="0.45">‘23</tspan><tspan x="900.22" y="618.42" textLength="18.82" lengthAdjust="spacingAndGlyphs" style="font:400 18px 'Liberation Sans','Noto Sans CJK KR',sans-serif;" fill="#222" stroke="#222" stroke-width="0.45">년</tspan></text>
<text style="white-space:pre"><tspan x="948.87" y="618.10" textLength="24.05" lengthAdjust="spacingAndGlyphs" style="font:400 20px 'Liberation Sans','Noto Sans CJK KR',sans-serif;letter-spacing:-0.02em;" fill="#222" stroke="#222" stroke-width="0.45">’19</tspan><tspan x="972.82" y="618.42" textLength="18.82" lengthAdjust="spacingAndGlyphs" style="font:400 18px 'Liberation Sans','Noto Sans CJK KR',sans-serif;" fill="#222" stroke="#222" stroke-width="0.45">년</tspan></text>
<text style="white-space:pre"><tspan x="1001.90" y="618.30" textLength="23.44" lengthAdjust="spacingAndGlyphs" style="font:400 20px 'Liberation Sans','Noto Sans CJK KR',sans-serif;letter-spacing:-0.02em;" fill="#222" stroke="#222" stroke-width="0.45">‘21</tspan><tspan x="1025.25" y="618.42" textLength="18.35" lengthAdjust="spacingAndGlyphs" style="font:400 18px 'Liberation Sans','Noto Sans CJK KR',sans-serif;" fill="#222" stroke="#222" stroke-width="0.45">년</tspan></text>
<text style="white-space:pre"><tspan x="1053.27" y="618.10" textLength="24.05" lengthAdjust="spacingAndGlyphs" style="font:400 20px 'Liberation Sans','Noto Sans CJK KR',sans-serif;letter-spacing:-0.02em;" fill="#222" stroke="#222" stroke-width="0.45">‘23</tspan><tspan x="1077.22" y="618.42" textLength="18.82" lengthAdjust="spacingAndGlyphs" style="font:400 18px 'Liberation Sans','Noto Sans CJK KR',sans-serif;" fill="#222" stroke="#222" stroke-width="0.45">년</tspan></text>
<text style="white-space:pre"><tspan x="849.27" y="1318.40" textLength="49.63" lengthAdjust="spacingAndGlyphs" style="font:400 19px 'Liberation Sans','Noto Sans CJK KR',sans-serif;" fill="#2b2b2b">(Base </tspan><tspan x="904.78" y="1318.40" textLength="10.00" lengthAdjust="spacingAndGlyphs" style="font:400 18px 'Liberation Sans','Noto Sans CJK KR',sans-serif;" fill="#2b2b2b">: </tspan><tspan x="919.53" y="1318.40" textLength="41.35" lengthAdjust="spacingAndGlyphs" style="font:400 18px 'Liberation Sans','Noto Sans CJK KR',sans-serif;" fill="#2b2b2b">전체 </tspan><tspan x="963.83" y="1318.40" textLength="64.14" lengthAdjust="spacingAndGlyphs" style="font:400 18px 'Liberation Sans','Noto Sans CJK KR',sans-serif;" fill="#2b2b2b">응답자, </tspan><tspan x="1032.16" y="1318.40" textLength="41.05" lengthAdjust="spacingAndGlyphs" style="font:400 18px 'Liberation Sans','Noto Sans CJK KR',sans-serif;" fill="#2b2b2b">단위 </tspan><tspan x="1076.88" y="1318.40" textLength="10.00" lengthAdjust="spacingAndGlyphs" style="font:400 18px 'Liberation Sans','Noto Sans CJK KR',sans-serif;" fill="#2b2b2b">: </tspan><tspan x="1093.89" y="1318.40" textLength="24.66" lengthAdjust="spacingAndGlyphs" style="font:400 19px 'Liberation Sans','Noto Sans CJK KR',sans-serif;" fill="#2b2b2b">%)</tspan></text>
<text style="white-space:pre"><tspan x="90.86" y="1668.10" textLength="23.17" lengthAdjust="spacingAndGlyphs" style="font:400 20.5px 'Liberation Sans','Noto Sans CJK KR',sans-serif;letter-spacing:-0.05em;" fill="#222" stroke="#222" stroke-width="0.4">20</tspan><tspan x="113.48" y="1668.06" textLength="16.29" lengthAdjust="spacingAndGlyphs" style="font:400 18px 'Liberation Sans','Noto Sans CJK KR',sans-serif;" fill="#222" stroke="#222" stroke-width="0.4">대</tspan></text>
<text style="white-space:pre"><tspan x="189.19" y="1668.10" textLength="22.93" lengthAdjust="spacingAndGlyphs" style="font:400 20.5px 'Liberation Sans','Noto Sans CJK KR',sans-serif;letter-spacing:-0.05em;" fill="#222" stroke="#222" stroke-width="0.4">30</tspan><tspan x="211.58" y="1668.06" textLength="16.29" lengthAdjust="spacingAndGlyphs" style="font:400 18px 'Liberation Sans','Noto Sans CJK KR',sans-serif;" fill="#222" stroke="#222" stroke-width="0.4">대</tspan></text>
<text style="white-space:pre"><tspan x="288.36" y="1668.10" textLength="22.47" lengthAdjust="spacingAndGlyphs" style="font:400 20.5px 'Liberation Sans','Noto Sans CJK KR',sans-serif;letter-spacing:-0.05em;" fill="#222" stroke="#222" stroke-width="0.4">40</tspan><tspan x="310.28" y="1668.06" textLength="16.29" lengthAdjust="spacingAndGlyphs" style="font:400 18px 'Liberation Sans','Noto Sans CJK KR',sans-serif;" fill="#222" stroke="#222" stroke-width="0.4">대</tspan></text>
<text style="white-space:pre"><tspan x="386.09" y="1668.10" textLength="22.93" lengthAdjust="spacingAndGlyphs" style="font:400 20.5px 'Liberation Sans','Noto Sans CJK KR',sans-serif;letter-spacing:-0.05em;" fill="#222" stroke="#222" stroke-width="0.4">50</tspan><tspan x="408.48" y="1668.06" textLength="16.29" lengthAdjust="spacingAndGlyphs" style="font:400 18px 'Liberation Sans','Noto Sans CJK KR',sans-serif;" fill="#222" stroke="#222" stroke-width="0.4">대</tspan></text>
<text style="white-space:pre"><tspan x="466.86" y="1668.10" textLength="23.17" lengthAdjust="spacingAndGlyphs" style="font:400 20.5px 'Liberation Sans','Noto Sans CJK KR',sans-serif;letter-spacing:-0.05em;" fill="#222" stroke="#222" stroke-width="0.4">60</tspan><tspan x="489.48" y="1668.06" textLength="21.21" lengthAdjust="spacingAndGlyphs" style="font:400 18px 'Liberation Sans','Noto Sans CJK KR',sans-serif;" fill="#222" stroke="#222" stroke-width="0.4">대 </tspan><tspan x="507.54" y="1668.16" textLength="33.50" lengthAdjust="spacingAndGlyphs" style="font:400 18px 'Liberation Sans','Noto Sans CJK KR',sans-serif;" fill="#222" stroke="#222" stroke-width="0.4">이상</tspan></text>
</svg>
</body></html>
